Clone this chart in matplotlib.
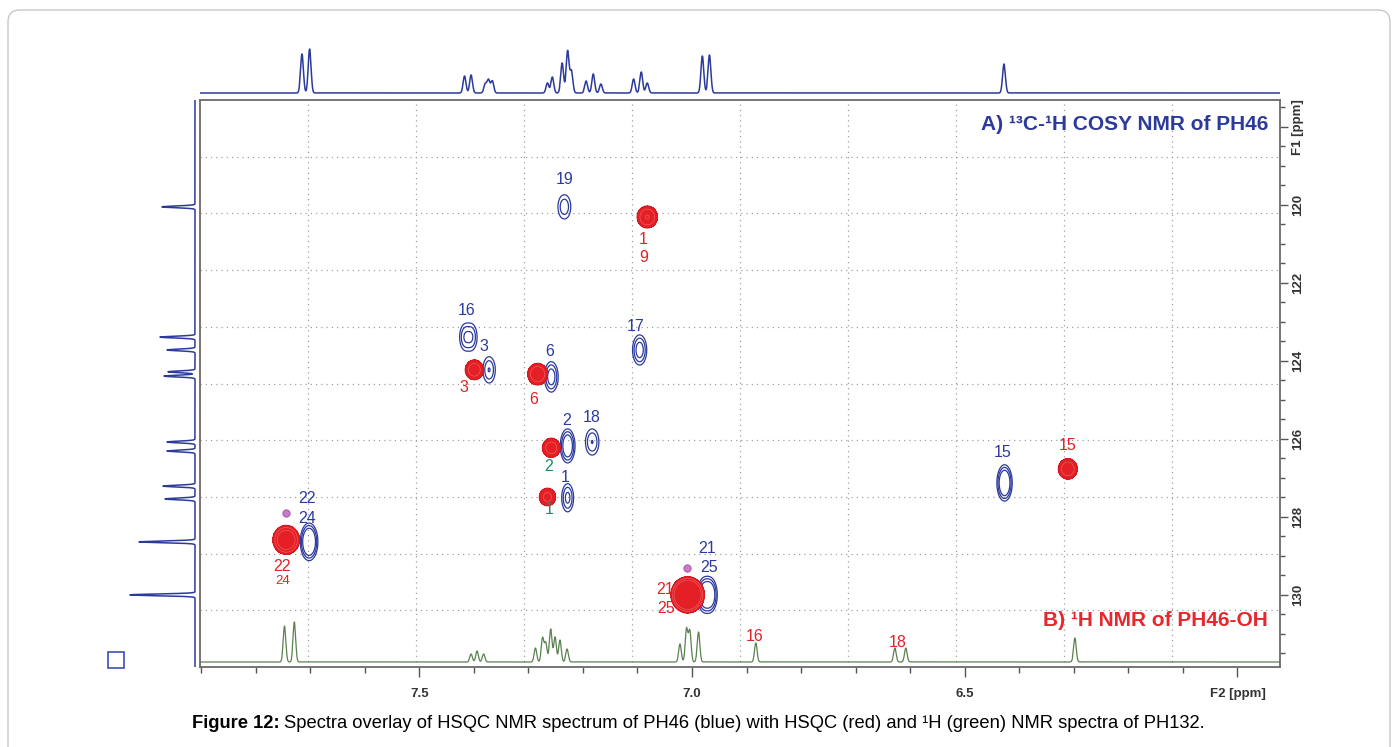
import numpy as np
import matplotlib
matplotlib.use('Agg')
import matplotlib.pyplot as plt
from matplotlib.ticker import MultipleLocator, FixedLocator
from matplotlib.patches import FancyBboxPatch, Rectangle
import matplotlib.transforms as mtransforms

plt.rcParams['font.family'] = ['Liberation Sans', 'DejaVu Sans']

# ---------------- data ----------------
# PH46 HSQC (blue) cross peaks: 1H ppm, 13C ppm, intensity, H-multiplet splitting
blue_names = ['19', '16', '3', '6', '17', '2', '18', '1', '15', '22/24', '21/25']
blue_h = [7.234, 7.410, 7.372, 7.258, 7.096, 7.228, 7.183, 7.228, 6.427, 7.702, 6.972]
blue_c = [120.05, 123.39, 124.23, 124.41, 123.72, 126.18, 126.08, 127.51, 127.13, 128.64, 130.00]
blue_int = [3.6, 6.6, 3.9, 5.8, 5.8, 8.4, 4.2, 4.2, 11.0, 14.4, 16.8]
blue_split = [0.0085, 0.012, 0.006, 0.005, 0.006, 0.003, 0.008, 0.0, 0.0, 0.006, 0.010]

# PH132 HSQC (red) cross peaks
red_names = ['1/9', '3', '6', '2', '1', '15', '22/24', '21/25']
red_h = [7.082, 7.399, 7.283, 7.258, 7.265, 6.311, 7.744, 7.008]
red_c = [120.31, 124.23, 124.34, 126.23, 127.49, 126.77, 128.59, 130.00]
red_int = [4.2, 3.2, 4.0, 3.0, 2.5, 3.5, 12.0, 50.0]

# weak magenta cross peaks
mag_h = [7.745, 7.010]
mag_c = [127.90, 129.30]

# 1H spectrum of PH46 (top, blue): ppm, height
top_ppm = [7.715, 7.701, 7.417, 7.405, 7.379, 7.373, 7.366, 7.265, 7.256, 7.238, 7.228,
           7.221, 7.194, 7.181, 7.167, 7.107, 7.093, 7.082, 6.981, 6.968, 6.428]
top_int = [39, 44, 17, 18, 9, 13, 12, 10, 16, 30, 42, 22, 12, 19, 9, 14, 21, 10, 37, 38, 29]

# 13C spectrum of PH46 (left, blue)
c13_ppm = [120.05, 123.39, 123.72, 124.28, 124.39, 126.08, 126.31, 127.21, 127.54, 128.64, 130.00]
c13_int = [33, 35, 28, 27, 31, 28, 28, 32, 30, 56, 65]

# 1H spectrum of PH46-OH (bottom, green)
green_ppm = [7.747, 7.729, 7.405, 7.394, 7.382, 7.287, 7.274, 7.268, 7.259, 7.251, 7.242, 7.229,
             7.022, 7.010, 7.004, 6.988, 6.883, 6.628, 6.608, 6.298]
green_int = [36, 40, 8, 11, 8, 14, 24, 19, 33, 25, 22, 13, 18, 33, 31, 30, 19, 14, 14, 24]

# peak number labels: text, 1H ppm, 13C ppm
blue_lab_text = ['19', '16', '3', '6', '17', '2', '18', '1', '15', '22', '24', '21', '25']
blue_lab_h = [7.234, 7.414, 7.381, 7.260, 7.104, 7.230, 7.184, 7.232, 6.430, 7.706, 7.706, 6.972, 6.968]
blue_lab_c = [119.36, 122.72, 123.62, 123.77, 123.13, 125.52, 125.46, 126.98, 126.34, 127.52, 128.03, 128.80, 129.31]

red_lab_text = ['1', '9', '3', '6', '15', '22', '24', '21', '25', '16', '18']
red_lab_h = [7.089, 7.089, 7.419, 7.291, 6.311, 7.751, 7.751, 7.050, 7.047, 6.885, 6.623]
red_lab_c = [120.90, 121.36, 124.67, 124.98, 126.16, 129.28, 129.64, 129.85, 130.34, 131.08, 131.21]

green_lab_text = ['2', '1']
green_lab_h = [7.263, 7.261]
green_lab_c = [126.72, 127.82]

xticks_major = [7.5, 7.0, 6.5, 6.0]
xtick_labels = ['7.5', '7.0', '6.5', 'F2 [ppm]']
yticks_major = [118, 120, 122, 124, 126, 128, 130]
ytick_labels = ['F1 [ppm]', '120', '122', '124', '126', '128', '130']

# ---------------- style ----------------
BLUE = '#2b3a9b'
RED = '#e41f26'
GREEN_LINE = '#5a8150'
GREEN_TXT = '#1d8a6a'
MAG = '#c77bc9'

W, H = 1398, 747
fig = plt.figure(figsize=(W / 100, H / 100), dpi=100)

def fx(px):
    return px / W

def fy(py):
    return 1 - py / H

# outer rounded border
border = FancyBboxPatch((0.08, -0.3), 13.82, 7.67, boxstyle='round,pad=0,rounding_size=0.12',
                        transform=fig.dpi_scale_trans, facecolor='white', edgecolor='#c8c8c8',
                        linewidth=1.0, zorder=-10)
fig.patches.append(border)

ax_l, ax_r, ax_t, ax_b = 200, 1280, 100, 667
ax = fig.add_axes([fx(ax_l), fy(ax_b), fx(ax_r - ax_l), (ax_b - ax_t) / H])
ax.set_facecolor('none')
ax.set_xlim(7.902, 5.922)
ax.set_ylim(131.85, 117.31)

# fixed grid (10 x 10 divisions)
for k in range(1, 10):
    ax.plot([k / 10, k / 10], [0, 1], transform=ax.transAxes, color='#a0a0a0',
            lw=0.9, ls=(0, (1, 3.2)), zorder=0)
    ax.plot([0, 1], [k / 10, k / 10], transform=ax.transAxes, color='#a0a0a0',
            lw=0.9, ls=(0, (1, 3.2)), zorder=0)

# 2D fields
Hg = np.linspace(5.9, 7.95, 1700)
Cg = np.linspace(117.0, 132.2, 1000)
HH, CC = np.meshgrid(Hg, Cg)

sxb, syb = 3.5 / 545, 8.3 / 39
Zb = np.zeros_like(HH)
for h0, c0, a, s in zip(blue_h, blue_c, blue_int, blue_split):
    gy = np.exp(-0.5 * ((CC - c0) / syb) ** 2)
    gx = 0.5 * (np.exp(-0.5 * ((HH - h0 - s / 2) / sxb) ** 2) +
                np.exp(-0.5 * ((HH - h0 + s / 2) / sxb) ** 2))
    Zb += a * gx * gy

sxr, syr = 6 / 545, 6.5 / 39
Zr = np.zeros_like(HH)
for h0, c0, a in zip(red_h, red_c, red_int):
    Zr += a * np.exp(-0.5 * ((HH - h0) / sxr) ** 2) * np.exp(-0.5 * ((CC - c0) / syr) ** 2)

ax.contour(Hg, Cg, Zb, levels=[1.0, 1.9, 3.4], colors=BLUE, linewidths=0.9, zorder=3)
ax.contourf(Hg, Cg, Zr, levels=[1.0, 1e6], colors=RED, zorder=4)
ax.contour(Hg, Cg, Zr, levels=[1.0], colors='#d41a20', linewidths=0.8, zorder=4)
ax.contour(Hg, Cg, Zr, levels=[2.0, 4.0], colors='#f06a6a', linewidths=0.4, zorder=4)
ax.scatter(mag_h, mag_c, s=28, color=MAG, edgecolor='#a84aa8', linewidth=0.6, zorder=4)

# green 1H spectrum inside the main axes (bottom)
hx = np.linspace(5.922, 7.902, 8000)
gspec = np.zeros_like(hx)
for p, i in zip(green_ppm, green_int):
    gspec += i * np.exp(-0.5 * ((hx - p) / 0.0024) ** 2)
blend = mtransforms.blended_transform_factory(ax.transData, ax.transAxes)
ax.plot(hx, (5 + gspec) / (ax_b - ax_t), transform=blend, color=GREEN_LINE, lw=0.9, zorder=2)

# peak labels
for t, h0, c0 in zip(blue_lab_text, blue_lab_h, blue_lab_c):
    ax.text(h0, c0, t, color=BLUE, fontsize=11.5, ha='center', va='center', zorder=6)
for t, h0, c0 in zip(red_lab_text, red_lab_h, red_lab_c):
    fs = 9.5 if (t == '24') else 11.5
    ax.text(h0, c0, t, color=RED, fontsize=fs, ha='center', va='center', zorder=6)
for t, h0, c0 in zip(green_lab_text, green_lab_h, green_lab_c):
    ax.text(h0, c0, t, color=GREEN_TXT, fontsize=11.5, ha='center', va='center', zorder=6)

# titles
ax.text((1268 - ax_l) / (ax_r - ax_l), 1 - (125 - ax_t) / (ax_b - ax_t),
        'A) \u00b9\u00b3C-\u00b9H COSY NMR of PH46', transform=ax.transAxes,
        ha='right', va='center', fontsize=15, fontweight='bold', color=BLUE, zorder=7)
ax.text((1268 - ax_l) / (ax_r - ax_l), 1 - (620 - ax_t) / (ax_b - ax_t),
        'B) \u00b9H NMR of PH46-OH', transform=ax.transAxes,
        ha='right', va='center', fontsize=15, fontweight='bold', color='#e8262b', zorder=7)

# axes styling
for sp in ax.spines.values():
    sp.set_color('#6a6a6a')
    sp.set_linewidth(1.3)
ax.yaxis.tick_right()
ax.xaxis.set_major_locator(FixedLocator(xticks_major))
ax.set_xticklabels(xtick_labels, fontweight='bold', fontsize=9.5, color='#333333')
ax.xaxis.set_minor_locator(MultipleLocator(0.1))
ax.yaxis.set_major_locator(FixedLocator(yticks_major))
ax.set_yticklabels(ytick_labels, fontweight='bold', fontsize=9.5, color='#333333',
                   rotation=90, va='center')
ax.yaxis.set_minor_locator(MultipleLocator(0.5))
ax.tick_params(axis='x', which='major', length=7, width=1, color='#555555', pad=8, top=False)
ax.tick_params(axis='x', which='minor', length=4, width=1, color='#555555', top=False)
ax.tick_params(axis='y', which='major', length=6, width=1, color='#555555', pad=3,
               left=False, right=True)
ax.tick_params(axis='y', which='minor', length=3.5, width=1, color='#555555',
               left=False, right=True)

# top 1H spectrum
axt = fig.add_axes([fx(ax_l), fy(97), fx(ax_r - ax_l), 62 / H], sharex=ax)
tspec = np.zeros_like(hx)
for p, i in zip(top_ppm, top_int):
    tspec += i * np.exp(-0.5 * ((hx - p) / 0.0026) ** 2)
axt.plot(hx, tspec, color=BLUE, lw=1.1)
axt.set_ylim(-4, 58)
axt.axis('off')

# left 13C spectrum
axl = fig.add_axes([fx(110), fy(ax_b), fx(90), (ax_b - ax_t) / H], sharey=ax)
cy = np.linspace(117.0, 132.2, 12000)
cspec = np.zeros_like(cy)
for p, i in zip(c13_ppm, c13_int):
    cspec += i * np.exp(-0.5 * ((cy - p) / 0.022) ** 2)
axl.plot(cspec, cy, color=BLUE, lw=1.1)
axl.set_xlim(85, -5)
axl.axis('off')
ax.set_ylim(131.85, 117.31)

# small blue square at lower left
fig.patches.append(Rectangle((fx(108), fy(668)), fx(16), 16 / H, transform=fig.transFigure,
                             facecolor='none', edgecolor='#3a4fb8', linewidth=1.2))

# caption
cy_pos = fy(723)
t1 = fig.text(0, cy_pos, 'Figure 12:', fontsize=13.2, fontweight='bold', ha='left', va='center')
t2 = fig.text(0, cy_pos, 'Spectra overlay of HSQC NMR spectrum of PH46 (blue) with HSQC (red) '
              'and \u00b9H (green) NMR spectra of PH132.', fontsize=13.2, ha='left', va='center')
r = fig.canvas.get_renderer()
w1 = t1.get_window_extent(r).width
w2 = t2.get_window_extent(r).width
gap = 4
start = 698 - (w1 + gap + w2) / 2
t1.set_x(start / W)
t2.set_x((start + w1 + gap) / W)

fig.savefig('out.png', dpi=100)
